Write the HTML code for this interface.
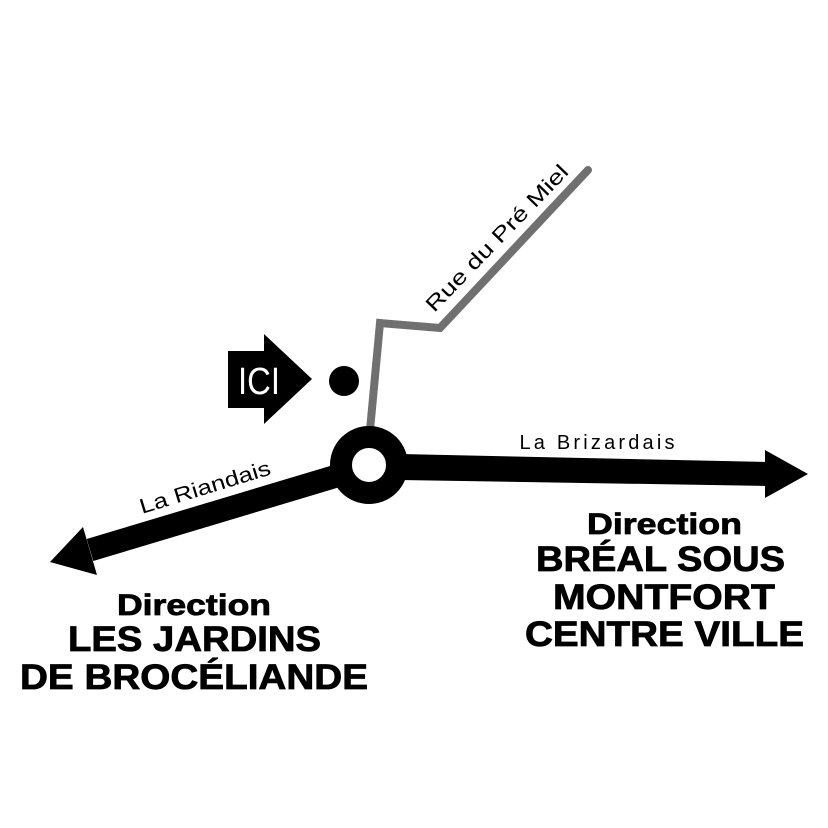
<!DOCTYPE html>
<html><head><meta charset="utf-8"><style>html,body{margin:0;padding:0;background:#fff}svg{display:block}</style></head>
<body>
<svg width="828" height="828" viewBox="0 0 828 828" xmlns="http://www.w3.org/2000/svg">
<rect width="828" height="828" fill="#fff"/>
<polyline points="370,430 380,323 440,328 588,170" fill="none" stroke="#707070" stroke-width="8" stroke-linecap="round" stroke-linejoin="miter"/>
<line x1="340" y1="475" x2="90" y2="550" stroke="#000" stroke-width="23"/>
<polygon points="50,562 83,527 97,575" fill="#000"/>
<polygon points="400,454 770,462 770,486 400,480" fill="#000"/>
<polygon points="808,474 765,450 765,498" fill="#000"/>
<circle cx="369" cy="465" r="28" fill="#fff" stroke="#000" stroke-width="22"/>
<polygon points="228,351 264,351 264,334 312,379 264,424 264,408 228,408" fill="#000"/>
<text x="259" y="394" text-anchor="middle" font-family="Liberation Sans, sans-serif" font-size="38" textLength="42" lengthAdjust="spacingAndGlyphs" fill="#fff">ICI</text>
<circle cx="344" cy="381" r="15" fill="#000"/>
<text transform="translate(502,243) rotate(-46)" text-anchor="middle" font-family="Liberation Sans, sans-serif" font-size="21" textLength="195" lengthAdjust="spacingAndGlyphs" fill="#000">Rue du Pré Miel</text>
<text x="597" y="449" text-anchor="middle" font-family="Liberation Sans, sans-serif" font-size="20" textLength="155" fill="#000">La Brizardais</text>
<text transform="translate(207,494) rotate(-17)" text-anchor="middle" font-family="Liberation Sans, sans-serif" font-size="21" textLength="136" lengthAdjust="spacingAndGlyphs" fill="#000">La Riandais</text>
<g font-family="Liberation Sans, sans-serif" font-weight="bold" fill="#000" stroke="#000" stroke-width="0.8">
<text x="587" y="534" font-size="30" textLength="155" lengthAdjust="spacingAndGlyphs">Direction</text>
<text x="536" y="571" font-size="35" textLength="249" lengthAdjust="spacingAndGlyphs">BRÉAL SOUS</text>
<text x="553" y="609" font-size="35" textLength="222" lengthAdjust="spacingAndGlyphs">MONTFORT</text>
<text x="525" y="646" font-size="35" textLength="279" lengthAdjust="spacingAndGlyphs">CENTRE VILLE</text>
<text x="117" y="615" font-size="30" textLength="154" lengthAdjust="spacingAndGlyphs">Direction</text>
<text x="68" y="651" font-size="35" textLength="253" lengthAdjust="spacingAndGlyphs">LES JARDINS</text>
<text x="20" y="689" font-size="35" textLength="348" lengthAdjust="spacingAndGlyphs">DE BROCÉLIANDE</text>
</g>
</svg>
</body></html>
